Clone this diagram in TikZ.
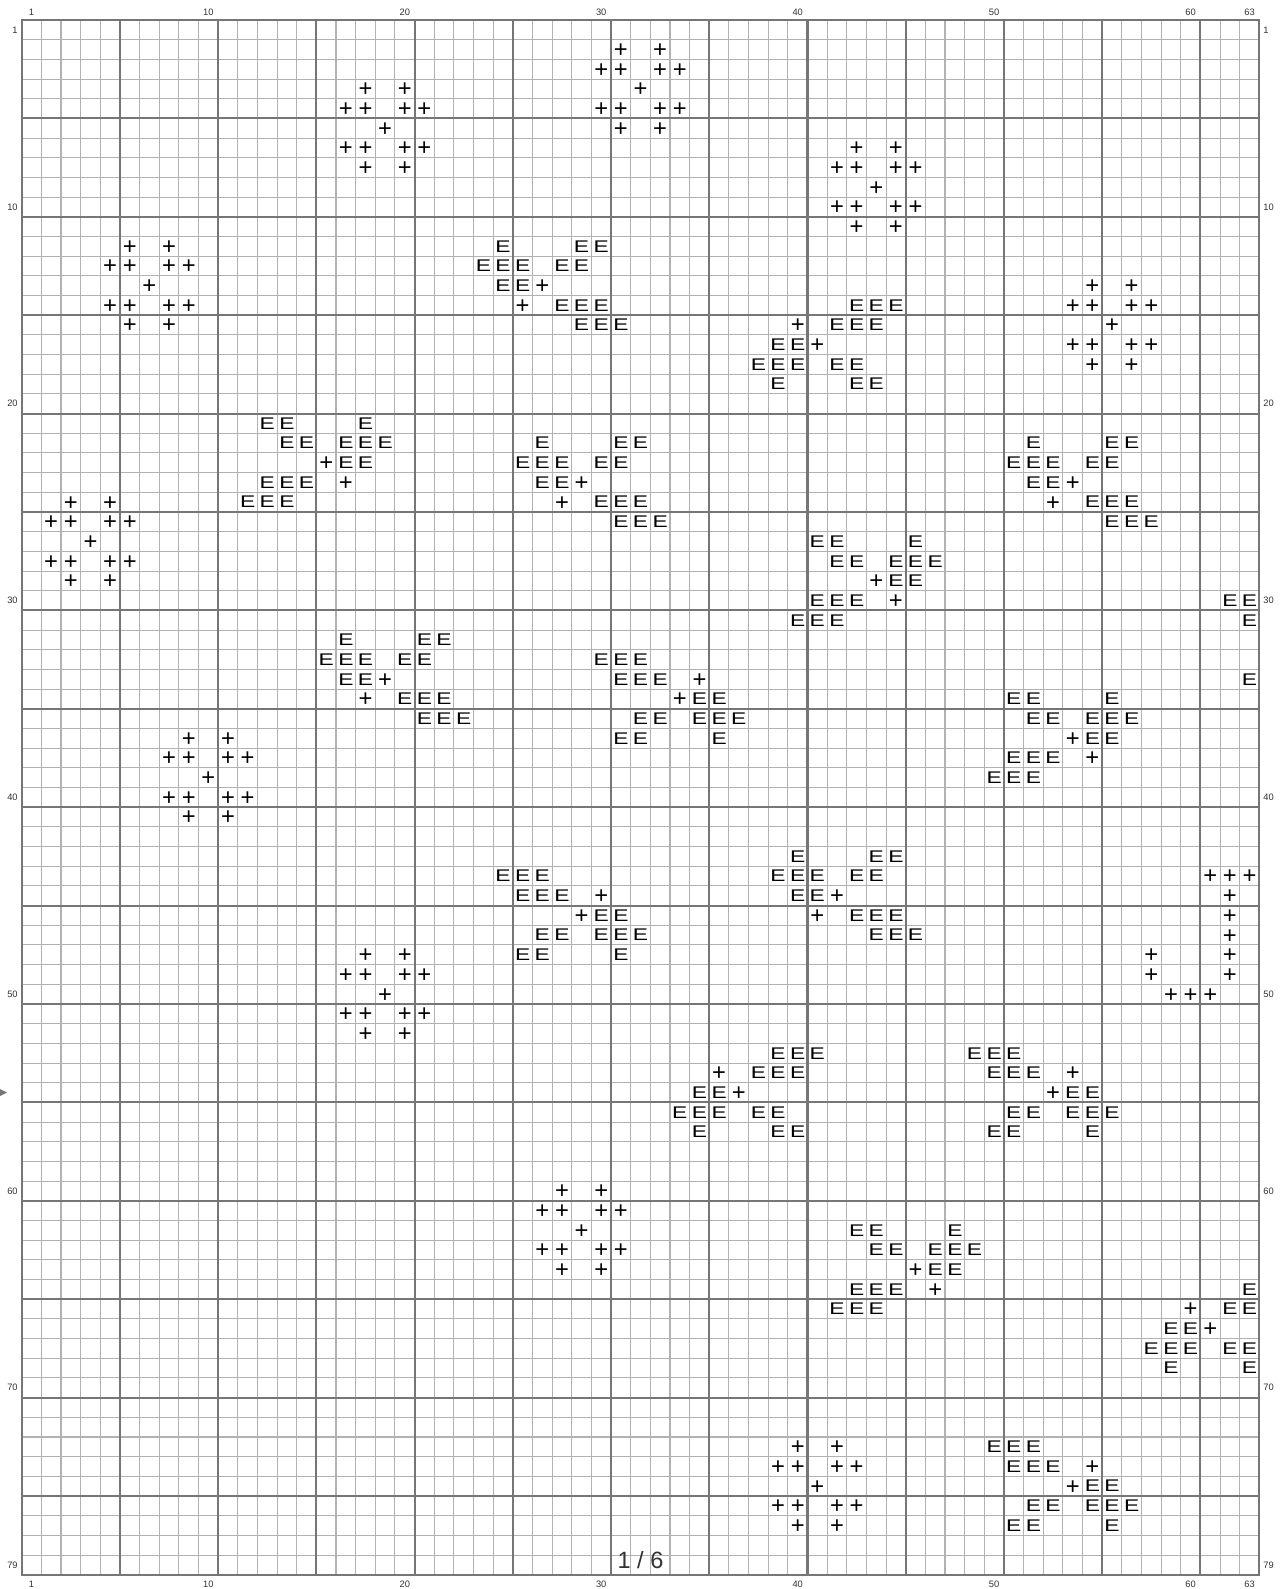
\documentclass[tikz,border=0pt]{standalone}
\usepackage{xcolor}
\usepackage{fontspec}
\setmainfont{Liberation Sans}
\usepackage{tikz}
\definecolor{gridthin}{RGB}{178,178,178}
\definecolor{gridthick}{RGB}{118,118,118}
\definecolor{labeltext}{RGB}{51,51,51}
\definecolor{symboltext}{RGB}{0,0,0}

\tikzset{
    thinline/.style={draw=gridthin, line width=0.6pt},
    thickline/.style={draw=gridthick, line width=1.15pt, line cap=rect},
    plussym/.style={inner sep=0pt, text=symboltext, font=\fontsize{13.5}{13.5}\selectfont, yshift=-0.6pt},
    esym/.style={inner sep=0pt, text=symboltext, font=\fontsize{9.6}{9.6}\selectfont, xscale=1.35},
    axislabel/.style={inner sep=0pt, text=labeltext, font=\fontsize{5.3}{5.3}\selectfont}
}
\newcommand{\pluscells}[2]{\foreach \c in {#2} {\node[plussym] (pl-\c-#1) at (\c-0.5,#1-0.5) {+};}}
\newcommand{\ecells}[2]{\foreach \c in {#2} {\node[esym] (ee-\c-#1) at (\c-0.5,#1-0.5) {E};}}

\begin{document}
\begin{tikzpicture}[x=0.3929cm, y=-0.3936cm]
\useasboundingbox (-1.1046,-1.0163) rectangle (64.1054,79.7256);
\fill[white] (-1.1046,-1.0163) rectangle (64.1054,79.7256);

\foreach \i in {0,...,63} \draw[thinline] (\i,0) -- (\i,79);
\foreach \j in {0,...,79} \draw[thinline] (0,\j) -- (63,\j);
\foreach \i in {0,5,...,60,63} \draw[thickline] (\i,0) -- (\i,79);
\foreach \j in {0,5,...,75,79} \draw[thickline] (0,\j) -- (63,\j);

\foreach \n in {1,10,20,30,40,50,60,63} {
    \node[axislabel] (top-\n) at (\n-0.5,-0.39) {\n};
    \node[axislabel] (bot-\n) at (\n-0.5,79.5) {\n};
}
\foreach \n in {1,10,20,30,40,50,60,70,79} {
    \node[axislabel, anchor=east] (left-\n) at (-0.19,\n-0.5) {\n};
    \node[axislabel, anchor=west] (right-\n) at (63.19,\n-0.5) {\n};
}
\fill[gridthick] (-1.105,54.32) -- (-0.75,54.5) -- (-1.105,54.68) -- cycle;

\pluscells{2}{31,33}
\pluscells{3}{30,31,33,34}
\pluscells{4}{18,20,32}
\pluscells{5}{17,18,20,21,30,31,33,34}
\pluscells{6}{19,31,33}
\pluscells{7}{17,18,20,21,43,45}
\pluscells{8}{18,20,42,43,45,46}
\pluscells{9}{44}
\pluscells{10}{42,43,45,46}
\pluscells{11}{43,45}
\pluscells{12}{6,8}
\pluscells{13}{5,6,8,9}
\pluscells{14}{7,27,55,57}
\pluscells{15}{5,6,8,9,26,54,55,57,58}
\pluscells{16}{6,8,40,56}
\pluscells{17}{41,54,55,57,58}
\pluscells{18}{55,57}
\pluscells{23}{16}
\pluscells{24}{17,29,54}
\pluscells{25}{3,5,28,53}
\pluscells{26}{2,3,5,6}
\pluscells{27}{4}
\pluscells{28}{2,3,5,6}
\pluscells{29}{3,5,44}
\pluscells{30}{45}
\pluscells{34}{19,35}
\pluscells{35}{18,34}
\pluscells{37}{9,11,54}
\pluscells{38}{8,9,11,12,55}
\pluscells{39}{10}
\pluscells{40}{8,9,11,12}
\pluscells{41}{9,11}
\pluscells{44}{61,62,63}
\pluscells{45}{30,42,62}
\pluscells{46}{29,41,62}
\pluscells{47}{62}
\pluscells{48}{18,20,58,62}
\pluscells{49}{17,18,20,21,58,62}
\pluscells{50}{19,59,60,61}
\pluscells{51}{17,18,20,21}
\pluscells{52}{18,20}
\pluscells{54}{36,54}
\pluscells{55}{37,53}
\pluscells{60}{28,30}
\pluscells{61}{27,28,30,31}
\pluscells{62}{29}
\pluscells{63}{27,28,30,31}
\pluscells{64}{28,30,46}
\pluscells{65}{47}
\pluscells{66}{60}
\pluscells{67}{61}
\pluscells{73}{40,42}
\pluscells{74}{39,40,42,43,55}
\pluscells{75}{41,54}
\pluscells{76}{39,40,42,43}
\pluscells{77}{40,42}

\ecells{12}{25,29,30}
\ecells{13}{24,25,26,28,29}
\ecells{14}{25,26}
\ecells{15}{28,29,30,43,44,45}
\ecells{16}{29,30,31,42,43,44}
\ecells{17}{39,40}
\ecells{18}{38,39,40,42,43}
\ecells{19}{39,43,44}
\ecells{21}{13,14,18}
\ecells{22}{14,15,17,18,19,27,31,32,52,56,57}
\ecells{23}{17,18,26,27,28,30,31,51,52,53,55,56}
\ecells{24}{13,14,15,27,28,52,53}
\ecells{25}{12,13,14,30,31,32,55,56,57}
\ecells{26}{31,32,33,56,57,58}
\ecells{27}{41,42,46}
\ecells{28}{42,43,45,46,47}
\ecells{29}{45,46}
\ecells{30}{41,42,43,62,63}
\ecells{31}{40,41,42,63}
\ecells{32}{17,21,22}
\ecells{33}{16,17,18,20,21,30,31,32}
\ecells{34}{17,18,31,32,33,63}
\ecells{35}{20,21,22,35,36,51,52,56}
\ecells{36}{21,22,23,32,33,35,36,37,52,53,55,56,57}
\ecells{37}{31,32,36,55,56}
\ecells{38}{51,52,53}
\ecells{39}{50,51,52}
\ecells{43}{40,44,45}
\ecells{44}{25,26,27,39,40,41,43,44}
\ecells{45}{26,27,28,40,41}
\ecells{46}{30,31,43,44,45}
\ecells{47}{27,28,30,31,32,44,45,46}
\ecells{48}{26,27,31}
\ecells{53}{39,40,41,49,50,51}
\ecells{54}{38,39,40,50,51,52}
\ecells{55}{35,36,54,55}
\ecells{56}{34,35,36,38,39,51,52,54,55,56}
\ecells{57}{35,39,40,50,51,55}
\ecells{62}{43,44,48}
\ecells{63}{44,45,47,48,49}
\ecells{64}{47,48}
\ecells{65}{43,44,45,63}
\ecells{66}{42,43,44,62,63}
\ecells{67}{59,60}
\ecells{68}{58,59,60,62,63}
\ecells{69}{59,63}
\ecells{73}{50,51,52}
\ecells{74}{51,52,53}
\ecells{75}{55,56}
\ecells{76}{52,53,55,56,57}
\ecells{77}{51,52,56}

\node[
    inner sep=0pt,
    text=labeltext,
    font=\fontsize{13.4}{13.4}\selectfont
] (page) at (31.5,78.24) {1 / 6};
\end{tikzpicture}
\end{document}
